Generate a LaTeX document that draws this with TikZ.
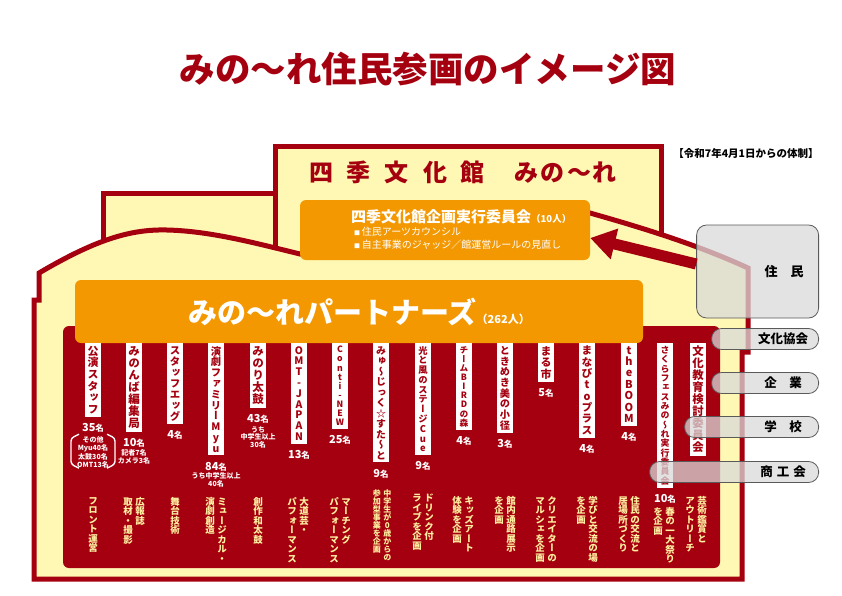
\documentclass[tikz,border=0pt]{standalone}
\usepackage{fontspec}
\usetikzlibrary{positioning,arrows.meta}
\newfontfamily\jp{Noto Sans CJK JP}
\newfontfamily\vjp[RawFeature=+vert]{Noto Sans CJK JP}
\definecolor{mred}{HTML}{A5000F}
\definecolor{cream}{HTML}{FFF7B4}
\definecolor{mikan}{HTML}{F39800}
\definecolor{kiiro}{HTML}{FFF0A0}
\definecolor{gfill}{HTML}{D9D9D9}
\definecolor{gline}{HTML}{5A5A5A}
\newcommand\mei{{\fontsize{8.5}{8.5}\selectfont 名}}
\def\tateEnd{TATEEND}
\newcommand\tate[2][1.05em]{\vtop{\baselineskip=#1\lineskiplimit=-\maxdimen\tateA#2\tateEnd}}
\def\tateA#1{\ifx#1\tateEnd\else\hbox to 1em{\hss#1\hss}\expandafter\tateA\fi}

\begin{document}
\begin{tikzpicture}[x=1pt,y=-1pt,
    bld/.style={draw=mred,fill=cream,line width=5pt},
    lbl/.style={fill=white,text=mred,inner xsep=0pt,inner ysep=3pt,minimum width=16pt,anchor=north,font=\vjp\bfseries\fontsize{#1}{#1}\selectfont},
    lbl/.default=11,
    act/.style={text=kiiro,inner sep=0pt,anchor=north,font=\vjp\bfseries\fontsize{#1}{#1}\selectfont},
    act/.default=9.5,
    cnt/.style={text=white,inner sep=0pt,font=\jp\bfseries\fontsize{11}{11}\selectfont},
    sub/.style={text=white,inner sep=0pt,align=center,font=\jp\bfseries\fontsize{7}{#1}\selectfont},
    sub/.default=8,
    kakko/.style={draw=white,line width=1.4pt,rounded corners=3pt},
    pill/.style={draw=gline,line width=0.8pt,fill=gfill,fill opacity=0.75,rounded corners=10pt,minimum height=21pt,inner sep=0pt,anchor=east},
    ptext/.style={font=\jp\bfseries\fontsize{12.5}{12.5}\selectfont},
    bigarrow/.style={draw=mred,line width=11pt,-{Triangle[width=30pt,length=25pt]}}]
    \useasboundingbox (0,0) rectangle (842,595);

    \node[text=mred,font=\jp\bfseries\fontsize{35.5}{35.5}\selectfont] (title) at (428,69) {みの〜れ住民参画のイメージ図};
    \node[font=\jp\bfseries\fontsize{10.5}{10.5}\selectfont] (taisei) at (746,153) {【令和7年4月1日からの体制】};

    \draw[bld] (103,300) -- (103,193) -- (275,193) -- (275,300);
    \draw[bld] (275,300) -- (275,146) -- (661,146) -- (661,300);
    \draw[bld] (39,273) .. controls (95,240) and (130,229) .. (167,230)
        .. controls (210,231) and (255,243) .. (300,254)
        .. controls (380,235) and (440,205) .. (500,203)
        .. controls (540,202) and (565,206) .. (590,213)
        .. controls (650,230) and (700,246) .. (748,268)
        -- (748,352) -- (742,352) -- (742,579) -- (34,579) -- (34,300) -- (39,300) -- cycle;
    \fill[mred,rounded corners=6pt] (63,326) rectangle (720,568);

    \node[text=mred,font=\jp\bfseries\fontsize{24}{24}\selectfont] (kanmei) at (463,172)
        {四\hspace{14pt}季\hspace{14pt}文\hspace{14pt}化\hspace{14pt}館\hspace{30pt}み\hspace{2pt}の\hspace{2pt}〜\hspace{2pt}れ};

    \node[fill=mikan,rounded corners=6pt,minimum width=290pt,minimum height=60pt] (kikaku) at (445,230) {};
    \node[text=white,anchor=west,inner sep=0pt,font=\jp\bfseries\fontsize{15}{15}\selectfont] (kikakut) at (351,217)
        {四季文化館企画実行委員会{\fontsize{9.5}{9.5}\selectfont （10人）}};
    \node[text=white,anchor=west,inner sep=0pt,font=\jp\fontsize{10}{10}\selectfont] (kikaku1) at (354,232)
        {{\fontsize{6}{6}\selectfont ■}\,住民アーツカウンシル};
    \node[text=white,anchor=west,inner sep=0pt,font=\jp\fontsize{10}{10}\selectfont] (kikaku2) at (354,245)
        {{\fontsize{6}{6}\selectfont ■}\,自主事業のジャッジ／館運営ルールの見直し};

    \node[fill=mikan,rounded corners=6pt,minimum width=568pt,minimum height=63pt,inner sep=0pt,text=white,font=\jp\bfseries] (partners) at (359,311.5)
        {{\fontsize{29}{29}\selectfont みの〜れパートナーズ}{\fontsize{11}{11}\selectfont （262人）}};

    \node[lbl] (lbl1) at (93,343) {\tate{公演スタッフ}};
    \node[lbl=11.5] (lbl2) at (134,343) {\tate{みのんば編集局}};
    \node[lbl=10.5] (lbl3) at (175,343) {\tate{スタッフエッグ}};
    \node[lbl=10.3] (lbl4) at (216,343) {\tate{演劇ファミリーMyu}};
    \node[lbl=11.5] (lbl5) at (258,343) {\tate{みのり太鼓}};
    \node[lbl=10.3] (lbl6) at (299,343) {\tate{OMT-JAPAN}};
    \node[lbl=8.7] (lbl7) at (340,343) {\tate{Conti-NEW}};
    \node[lbl=10] (lbl8) at (381,343) {\tate{みゅ〜じっく☆すた〜と}};
    \node[lbl=9.3] (lbl9) at (423,343) {\tate{光と風のステージCue}};
    \node[lbl=8.7] (lbl10) at (464,343) {\tate{チームBIRDの森}};
    \node[lbl=10.2] (lbl11) at (505,343) {\tate{ときめき美の小径}};
    \node[lbl] (lbl12) at (546,343) {\tate{まる市}};
    \node[lbl=10.8] (lbl13) at (587,343) {\tate{まなびtoプラス}};
    \node[lbl=10.9] (lbl14) at (629,343) {\tate{the BOOM}};
    \node[lbl=8.9] (lbl15) at (665,343) {\tate{さくらフェスみの〜れ実行委員会}};
    \node[lbl=11.4] (lbl16) at (698,343) {\tate{文化教育検討委員会}};

    \node[cnt,below=6pt of lbl1] (cnt1) {35\mei};
    \node[sub=8.5,below=4pt of cnt1] (sub1) {その他\\Myu40名\\太鼓30名\\OMT13名};
    \draw[kakko] (sub1.north west) ++(2,-2) -- ++(-8,4) -- ++(0,26) -- ++(8,4);
    \draw[kakko] (sub1.north east) ++(-2,-2) -- ++(8,4) -- ++(0,26) -- ++(-8,4);
    \node[cnt,below=6pt of lbl2] (cnt2) {10\mei};
    \node[sub=7.5,below=2pt of cnt2] (sub2) {記者7名\\カメラ3名};
    \node[cnt,below=6pt of lbl3] (cnt3) {4\mei};
    \node[cnt,below=6pt of lbl4] (cnt4) {84\mei};
    \node[sub,below=1pt of cnt4] (sub4) {うち中学生以上\\40名};
    \node[cnt,below=6pt of lbl5] (cnt5) {43\mei};
    \node[sub=7.5,below=3pt of cnt5] (sub5) {うち\\中学生以上\\30名};
    \node[cnt,below=6pt of lbl6] (cnt6) {13\mei};
    \node[cnt,below=6pt of lbl7] (cnt7) {25\mei};
    \node[cnt,below=6pt of lbl8] (cnt8) {9\mei};
    \node[cnt,below=6pt of lbl9] (cnt9) {9\mei};
    \node[cnt,below=6pt of lbl10] (cnt10) {4\mei};
    \node[cnt,below=6pt of lbl11] (cnt11) {3\mei};
    \node[cnt,below=6pt of lbl12] (cnt12) {5\mei};
    \node[cnt,below=6pt of lbl13] (cnt13) {4\mei};
    \node[cnt,below=6pt of lbl14] (cnt14) {4\mei};
    \node[cnt,below=6pt of lbl15] (cnt15) {10\mei};

    \node[act] (act1) at (93,497) {\tate[1em]{フロント運営}};
    \node[act] (act2) at (134,497) {\tate[1em]{取材・撮影}\hspace{2.5pt}\tate[1em]{広報誌}};
    \node[act] (act3) at (175,497) {\tate[1em]{舞台技術}};
    \node[act] (act4) at (216,497) {\tate[1em]{演劇創造}\hspace{2.5pt}\tate[1em]{ミュージカル・}};
    \node[act] (act5) at (258,497) {\tate[1em]{創作和太鼓}};
    \node[act] (act6) at (298,497) {\tate[1em]{パフォーマンス}\hspace{2.5pt}\tate[1em]{大道芸・}};
    \node[act] (act7) at (340,497) {\tate[1em]{パフォーマンス}\hspace{2.5pt}\tate[1em]{マーチング}};
    \node[act=8] (act8) at (382,489) {\tate[1em]{参加型事業を企画}\hspace{2.5pt}\tate[1em]{中学生が0歳からの}};
    \node[act] (act9) at (423,494) {\tate[1em]{ライブを企画}\hspace{2.5pt}\tate[1em]{ドリンク付}};
    \node[act] (act10) at (463,496) {\tate[1em]{体験を企画}\hspace{2.5pt}\tate[1em]{キッズアート}};
    \node[act] (act11) at (505,496) {\tate[1em]{を企画}\hspace{2.5pt}\tate[1em]{館内通路展示}};
    \node[act] (act12) at (546,496) {\tate[1em]{マルシェを企画}\hspace{2.5pt}\tate[1em]{クリエイターの}};
    \node[act] (act13) at (587,496) {\tate[1em]{を企画}\hspace{2.5pt}\tate[1em]{学びと交流の場}};
    \node[act] (act14) at (629,496) {\tate[1em]{居場所づくり}\hspace{2.5pt}\tate[1em]{住民の交流と}};
    \node[act] (act15) at (664,507) {\tate[1em]{を企画}\hspace{2.5pt}\tate[1em]{春の一大祭り}};
    \node[act] (act16) at (696,496) {\tate[1em]{アウトリーチ}\hspace{2.5pt}\tate[1em]{芸術鑑賞と}};

    \node[pill,minimum width=122pt,minimum height=93pt] (jumin) at (819,271.5) {};
    \node[pill,minimum width=107pt] (kyokai) at (819,339) {};
    \node[pill,minimum width=107pt] (kigyo) at (819,383) {};
    \node[pill,minimum width=134pt] (gakko) at (819,427) {};
    \node[pill,minimum width=169pt] (shoko) at (819,472) {};
    \node[ptext,font=\jp\bfseries\fontsize{13}{13}\selectfont] (jumint) at (784,272) {住　民};
    \node[ptext] (kyokait) at (783,339) {文化協会};
    \node[ptext] (kigyot) at (783,383) {企　業};
    \node[ptext] (gakkot) at (783,427) {学　校};
    \node[ptext] (shokot) at (783,472) {商\hspace{4pt}工\hspace{4pt}会};

    \draw[bigarrow] ([yshift=7.5pt]jumin.west) -- ([yshift=-8pt]kikaku.east);
\end{tikzpicture}
\end{document}
